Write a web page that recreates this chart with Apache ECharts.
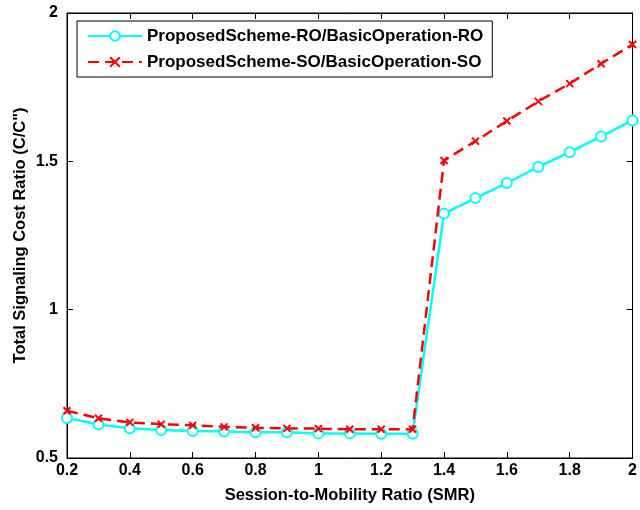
<!DOCTYPE html>
<html>
<head>
<meta charset="utf-8">
<script src="https://cdn.jsdelivr.net/npm/echarts@6/dist/echarts.min.js"></script>
<style>
  html, body { margin: 0; padding: 0; background: #fff; }
  #chart { width: 640px; height: 510px; }
</style>
</head>
<body>
<div id="chart"></div>
<script>
// Session-to-mobility ratio values
const smr = [0.2, 0.3, 0.4, 0.5, 0.6, 0.7, 0.8, 0.9, 1.0, 1.1, 1.2, 1.3, 1.4, 1.5, 1.6, 1.7, 1.8, 1.9, 2.0];

// Cost ratio, route optimization
const ratioRO = [0.635, 0.613, 0.600, 0.594, 0.591, 0.589, 0.587, 0.587, 0.583, 0.583, 0.582, 0.582,
                 1.324, 1.376, 1.427, 1.481, 1.531, 1.584, 1.638];

// Cost ratio, standard operation
const ratioSO = [0.659, 0.634, 0.620, 0.614, 0.610, 0.605, 0.602, 0.600, 0.599, 0.597, 0.597, 0.597,
                 1.503, 1.568, 1.636, 1.702, 1.762, 1.829, 1.894];

const seriesNames = ['ProposedScheme-RO/BasicOperation-RO', 'ProposedScheme-SO/BasicOperation-SO'];
const xTitle = 'Session-to-Mobility Ratio (SMR)';
const yTitle = 'Total Signaling Cost Ratio (C/C")';

const FONT = 'Arial, "Liberation Sans", Helvetica, sans-serif';
const cross = 'path://M0,0L10,10M10,0L0,10';

const pair = (xs, ys) => xs.map((x, i) => [x, ys[i]]);

const chart = echarts.init(document.getElementById('chart'), null, { renderer: 'canvas' });

const tickStyle = { show: true, inside: true, length: 6, lineStyle: { color: '#000', width: 1 } };
const labelStyle = { fontFamily: FONT, fontWeight: 'bold', fontSize: 16, color: '#000' };
const titleStyle = { fontFamily: FONT, fontWeight: 'bold', fontSize: 16.5, color: '#000' };

chart.setOption({
  animation: false,
  backgroundColor: '#fff',
  grid: { left: 67, right: 5, top: 13, bottom: 52, show: true, borderColor: '#000', borderWidth: 1 },
  legend: {
    orient: 'vertical',
    left: 77,
    top: 21,
    backgroundColor: '#fff',
    borderColor: '#000',
    borderWidth: 1,
    borderRadius: 0,
    padding: [6, 9, 6, 10],
    itemGap: 8,
    itemWidth: 54,
    itemHeight: 12,
    textStyle: { fontFamily: FONT, fontWeight: 'bold', fontSize: 17, lineHeight: 18, color: '#000' },
    data: seriesNames
  },
  xAxis: [
    {
      type: 'value', min: 0.2, max: 2, interval: 0.2,
      name: xTitle, nameLocation: 'middle', nameGap: 29,
      nameMoveOverlap: false,
      nameTextStyle: titleStyle,
      axisLine: { show: true, lineStyle: { color: '#000', width: 1 } },
      axisTick: tickStyle,
      axisLabel: Object.assign({ margin: 5 }, labelStyle),
      splitLine: { show: false }
    },
    {
      type: 'value', position: 'top', min: 0.2, max: 2, interval: 0.2,
      axisLine: { show: true, lineStyle: { color: '#000', width: 1 } },
      axisTick: tickStyle, axisLabel: { show: false }, splitLine: { show: false }
    }
  ],
  yAxis: [
    {
      type: 'value', min: 0.5, max: 2, interval: 0.5,
      name: yTitle, nameLocation: 'middle', nameGap: 38,
      nameMoveOverlap: false,
      nameTextStyle: titleStyle,
      axisLine: { show: true, lineStyle: { color: '#000', width: 1 } },
      axisTick: tickStyle,
      axisLabel: Object.assign({ margin: 9 }, labelStyle),
      splitLine: { show: false }
    },
    {
      type: 'value', position: 'right', min: 0.5, max: 2, interval: 0.5,
      axisLine: { show: true, lineStyle: { color: '#000', width: 1 } },
      axisTick: tickStyle, axisLabel: { show: false }, splitLine: { show: false }
    }
  ],
  series: [
    {
      name: seriesNames[0],
      type: 'line',
      data: pair(smr, ratioRO),
      symbol: 'circle',
      symbolSize: 10,
      showAllSymbol: true,
      lineStyle: { color: '#00ffff', width: 2.5 },
      itemStyle: { color: '#fff', borderColor: '#00ffff', borderWidth: 2 },
      z: 3
    },
    {
      name: seriesNames[1],
      type: 'line',
      data: pair(smr, ratioSO),
      symbol: cross,
      symbolSize: 7,
      showAllSymbol: true,
      lineStyle: { color: '#ff0000', width: 2.5, type: [11, 6] },
      itemStyle: { color: '#ff0000', borderColor: '#ff0000', borderWidth: 2 },
      z: 4
    }
  ]
});
</script>
</body>
</html>
